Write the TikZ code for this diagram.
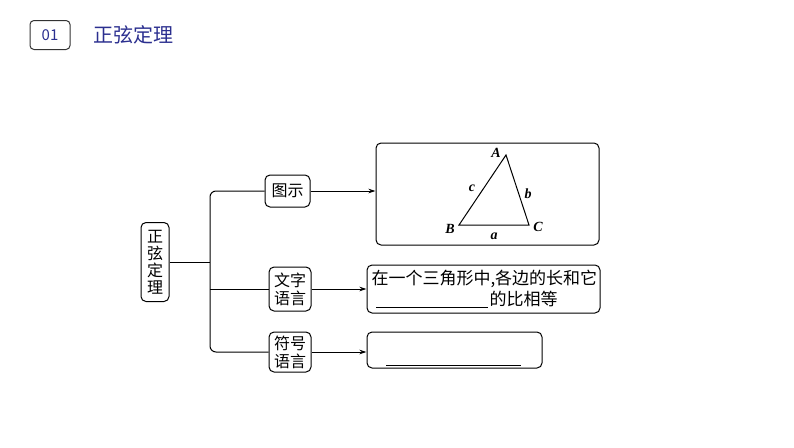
\documentclass[tikz,border=0pt]{standalone}
\usepackage{fontspec}
\setmainfont{Noto Sans CJK SC}
\newfontfamily\serifit{Liberation Serif}
\usetikzlibrary{arrows.meta}
\definecolor{tblue}{HTML}{2B2F8F}
\begin{document}
\begin{tikzpicture}[x=1pt,y=-1pt,line width=1pt,
  box/.style={draw,line width=1pt,rounded corners=5pt,inner sep=0pt},
  lbl/.style={font=\fontsize{16}{18}\selectfont,align=center},
  arr/.style={line width=1pt,-{Stealth[length=7pt,width=4.5pt]}},
  lt/.style={font=\serifit\bfseries\itshape\fontsize{14}{14}\selectfont}]
\useasboundingbox (0,0) rectangle (794,447);
\node[draw=black!80,rounded corners=4pt,minimum width=40,minimum height=29,font=\fontsize{15}{17}\selectfont,text=tblue] (num) at (50,35) {01};
\node[anchor=west,font=\fontsize{20}{22}\selectfont,text=tblue] (title) at (90,35) {正弦定理};
\node[box,minimum width=28,minimum height=79,lbl,font=\fontsize{16}{17}\selectfont] (root) at (155,262) {正\\弦\\定\\理};
\node[box,minimum width=45,minimum height=32,lbl] (tu) at (287.5,191) {图示};
\node[box,minimum width=42,minimum height=44,lbl,font=\fontsize{16}{18}\selectfont] (wz) at (290,289) {文字\\语言};
\node[box,minimum width=42,minimum height=40,lbl,font=\fontsize{16}{18}\selectfont] (fh) at (290,352) {符号\\语言};
\node[box,minimum width=223,minimum height=102] (pic) at (487.5,194) {};
\node[box,minimum width=233,minimum height=48] (txt) at (483.5,289) {};
\node[box,minimum width=175,minimum height=36] (sym) at (454.5,350) {};
% triangle
\coordinate (A) at (506,155); \coordinate (B) at (459,225); \coordinate (C) at (529,225);
\draw (A) -- (B) -- (C) -- cycle;
\node[lt] (la) at (496,153) {A}; \node[lt] (lb) at (450,229) {B}; \node[lt] (lc) at (538,227) {C};
\node[lt] (sa) at (494,236) {a}; \node[lt] (sb) at (528,194) {b}; \node[lt] (sc) at (472,188) {c};
% texts
\node[anchor=west,font=\fontsize{17}{19}\selectfont,inner sep=0] (t1) at (371,279) {在一个三角形中,各边的长和它};
\coordinate (u1) at (376,307); \coordinate (u2) at (488,307);
\draw (u1) -- (u2);
\node[anchor=west,font=\fontsize{17}{19}\selectfont,inner sep=0] (t2) at (489,299) {的比相等};
\coordinate (u3) at (386,365); \coordinate (u4) at (521,365);
\draw (u3) -- (u4);
% connectors
\coordinate (j) at (210,262);
\draw (root.east) -- (j);
\draw[rounded corners=6pt] (tu.west) -| (j) |- (fh.west);
\draw (j |- wz.west) -- (wz.west);
\draw[arr] (tu.east) -- (pic.west |- tu.east);
\draw[arr] (wz.east) -- (txt.west |- wz.east);
\draw[arr] (fh.east) -- (sym.west |- fh.east);
\end{tikzpicture}
\end{document}
